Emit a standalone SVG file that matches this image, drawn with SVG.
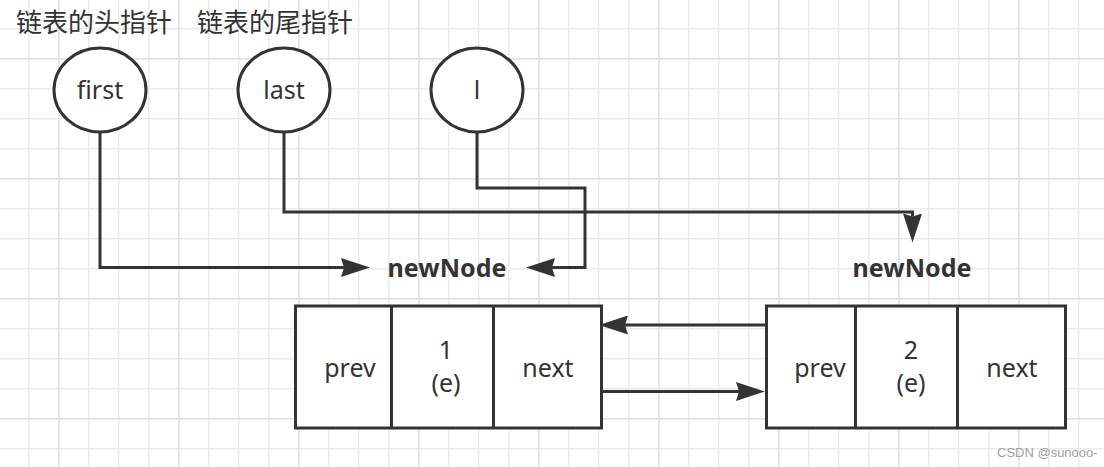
<svg xmlns="http://www.w3.org/2000/svg" width="1104" height="467" viewBox="0 0 1104 467">
  <defs>
    <pattern id="minor" x="28" y="28" width="30" height="30" patternUnits="userSpaceOnUse">
      <rect x="0" y="0" width="1.5" height="30" fill="#ebebeb"/>
      <rect x="0" y="0" width="30" height="1.5" fill="#ebebeb"/>
    </pattern>
    <pattern id="major" x="58" y="58" width="120" height="120" patternUnits="userSpaceOnUse">
      <rect x="0" y="0" width="1.5" height="120" fill="#e2e2e2"/>
      <rect x="0" y="0" width="120" height="1.5" fill="#e2e2e2"/>
    </pattern>
    <marker id="arrow" viewBox="0 0 29 19" markerUnits="userSpaceOnUse" markerWidth="29" markerHeight="19" refX="3" refY="9.5" orient="auto">
      <path d="M0,0 L29,9.5 L0,19 L3,9.5 Z" fill="#333333"/>
    </marker>
    <style>
      .ln { fill: none; stroke: #333333; stroke-width: 3; }
      .shape { fill: #ffffff; stroke: #333333; stroke-width: 3; }
      .t { font-family: "Noto Sans", "Open Sans", sans-serif; font-size: 25px; fill: #333333; text-anchor: middle; }
      .b { font-family: "Noto Sans", "Open Sans", sans-serif; font-size: 25px; font-weight: bold; fill: #333333; text-anchor: middle; }
      .cn { font-family: "Noto Sans CJK SC", "Noto Sans", sans-serif; font-size: 26px; fill: #333333; }
      .wm { font-family: "Liberation Sans", Arial, sans-serif; font-size: 13px; fill: #a0a0a0; }
    </style>
  </defs>

  <rect x="0" y="0" width="1104" height="467" fill="#ffffff"/>
  <rect x="0" y="0" width="1104" height="467" fill="url(#minor)"/>
  <rect x="0" y="0" width="1104" height="467" fill="url(#major)"/>

  <g id="labels">
    <text class="cn" x="16" y="32">链表的头指针</text>
    <text class="cn" x="197" y="32">链表的尾指针</text>
  </g>

  <g id="connectors">
    <path class="ln" d="M100,133 V267.5 H344" marker-end="url(#arrow)"/>
    <path class="ln" d="M284,133 V212 H912.5 V216.5" marker-end="url(#arrow)"/>
    <path class="ln" d="M477,133 V188 H585 V267.5 H552" marker-end="url(#arrow)"/>
    <path class="ln" d="M766,325 H625" marker-end="url(#arrow)"/>
    <path class="ln" d="M602,391.5 H739" marker-end="url(#arrow)"/>
  </g>

  <g id="node-first">
    <ellipse class="shape" cx="100" cy="90" rx="46" ry="42"/>
    <text class="t" x="100" y="99">first</text>
  </g>
  <g id="node-last">
    <ellipse class="shape" cx="284" cy="90" rx="46" ry="42"/>
    <text class="t" x="284" y="99">last</text>
  </g>
  <g id="node-l">
    <ellipse class="shape" cx="477" cy="90" rx="46" ry="42"/>
    <text class="t" x="477" y="99">l</text>
  </g>

  <g id="node1">
    <text class="b" x="447" y="277">newNode</text>
    <rect class="shape" x="295.5" y="306" width="306" height="122"/>
    <line class="ln" x1="391.5" y1="306" x2="391.5" y2="428"/>
    <line class="ln" x1="493.5" y1="306" x2="493.5" y2="428"/>
    <text class="t" x="350" y="377">prev</text>
    <text class="t" x="446" y="359">1</text>
    <text class="t" x="446" y="392">(e)</text>
    <text class="t" x="548" y="377">next</text>
  </g>

  <g id="node2">
    <text class="b" x="912" y="277">newNode</text>
    <rect class="shape" x="766.5" y="306" width="299" height="122"/>
    <line class="ln" x1="855.5" y1="306" x2="855.5" y2="428"/>
    <line class="ln" x1="957.5" y1="306" x2="957.5" y2="428"/>
    <text class="t" x="820" y="377">prev</text>
    <text class="t" x="911" y="359">2</text>
    <text class="t" x="911" y="392">(e)</text>
    <text class="t" x="1012" y="377">next</text>
  </g>

  <text class="wm" x="997" y="457">CSDN @sunooo-</text>
</svg>
